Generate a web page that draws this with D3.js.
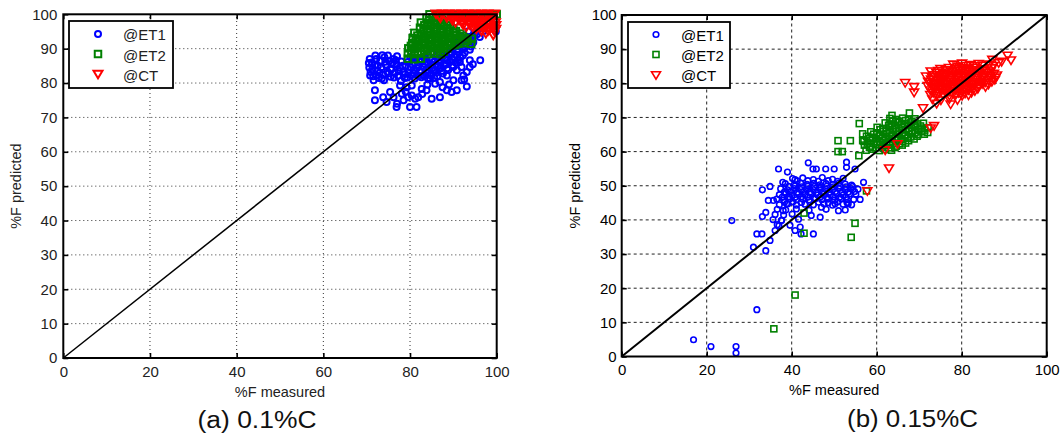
<!DOCTYPE html>
<html><head><meta charset="utf-8">
<script src="https://cdn.jsdelivr.net/npm/d3@7"></script>
<style>body{margin:0;background:#fff}svg{display:block}</style>
</head><body><svg id="c" width="1062" height="436"></svg>
<script>
const xTicks = [0,20,40,60,80,100];
const yTicks = [0,10,20,30,40,50,60,70,80,90,100];
const legendLabels = ["@ET1","@ET2","@CT"];
const seriesColors = ["#0000ff","#008000","#ff0000"];
const panelTitles = ["(a) 0.1%C","(b) 0.15%C"];
const xLabel = "%F measured";
const yLabel = "%F predicted";
const diagX = [0,100];
const diagY = [0,100];

// ---- Panel (a) 0.1%C ----
const et1A = [
[70.6,84.5],[70.9,83.2],[71.2,86.0],[71.5,82.0],[71.9,85.2],[72.2,87.0],[72.5,83.6],[72.8,81.5],[73.1,86.4],[73.4,84.6],
[73.8,82.4],[74.1,87.5],[74.4,85.3],[74.8,83.3],[75.2,86.4],[75.5,81.8],[75.8,84.2],[76.2,87.0],[76.5,83.0],[76.9,85.5],
[77.2,82.1],[77.6,84.5],[78.0,86.3],[78.4,83.2],[78.8,81.5],[79.0,85.0],[70.8,82.2],[72.0,88.0],[73.6,88.1],[75.0,82.8],
[76.0,85.9],[77.9,80.6],[74.0,80.8],[71.6,80.8],
[70.5,85.8],[71.3,84.0],[72.6,85.0],[73.0,83.0],[74.3,86.2],[75.6,83.9],[76.7,86.6],[77.4,83.4],[78.3,85.0],[78.9,82.6],
[72.3,82.3],[76.3,81.6],[74.9,88.0],[77.0,87.8],[70.7,87.0],[73.5,81.3],
[71.9,77.9],[71.9,75.0],[73.8,75.9],[75.4,77.4],[76.2,75.9],[76.9,73.0],[78.1,76.9],[78.5,75.0],[79.6,75.9],[80.4,76.4],
[81.2,75.4],[80.0,73.0],[81.5,73.0],[81.9,75.9],[77.7,79.3],[79.2,78.8],[80.4,79.3],[82.7,78.3],[83.8,77.9],[85.0,75.4],
[86.9,75.9],[88.5,77.9],[89.6,77.4],[90.8,77.9],[93.1,79.0],[91.9,80.8],[90.0,80.8],[86.9,80.3],[85.8,79.8],[84.6,81.3],
[83.1,82.2],[88.5,82.2],[90.8,83.7],[91.9,84.7],[93.8,86.6],[93.8,84.7],[96.2,86.6],[92.3,82.2],[93.1,83.2],[91.5,86.1],
[90.0,84.7],[88.5,86.6],[87.7,88.1],[86.9,84.2],[85.4,83.7],[84.2,84.7],[74.6,74.5],[77.0,74.0],[79.0,77.5],[82.8,76.8],
[84.0,79.5],[87.5,78.8],[89.0,79.6],[92.5,81.0],[94.5,85.5],
[79.4,81.6],[81.1,81.3],[82.6,81.7],[84.1,81.4],[85.6,81.6],
[79.6,83.1],[81.0,82.8],[82.4,83.2],[84.1,82.9],[86.1,83.1],[87.6,82.8],
[80.1,84.6],[81.6,84.3],[83.1,84.7],[85.1,84.4],[87.1,84.6],[88.6,84.3],
[79.5,86.1],[81.1,85.8],[82.6,86.2],[84.1,85.9],[85.6,86.1],[87.1,85.8],[89.1,86.2],[90.6,85.9],
[80.1,87.6],[81.6,87.3],[83.1,87.7],[84.6,87.4],[86.1,87.6],[88.6,87.3],[90.1,87.7],[91.6,87.4],
[85.1,89.1],[86.6,88.8],[88.1,89.2],[89.6,88.9],[91.1,89.1],[92.6,88.8],
[88.1,90.6],[89.6,90.3],[91.1,90.7],[92.6,90.4],[94.1,90.6],
[90.1,92.1],[91.6,91.8],[93.1,92.2],[94.6,91.9],
[91.6,93.6],[93.1,93.3],[94.6,93.7],[96.1,93.4],
[93.5,95.1],[95.1,94.8],[96.8,95.0],[99.8,95.0],
[80.3,82.3],[81.8,82.1],[83.3,82.4],[84.8,82.2],[86.3,82.0],
[80.8,83.8],[82.3,83.6],[83.8,83.9],[85.8,83.7],[87.3,83.5],[88.8,83.8],
[80.5,85.4],[82.0,85.2],[83.5,85.5],[85.0,85.3],[86.5,85.1],[88.0,85.4],[89.8,85.2],
[80.6,86.9],[82.1,86.7],[83.6,87.0],[85.1,86.8],[86.6,86.6],[88.1,86.9],[89.8,86.8],[91.2,86.7],
[86.3,88.3],[87.8,88.1],[89.3,88.4],[90.8,88.2],[92.2,88.0],
[89.3,89.8],[90.8,89.6],[92.3,89.9],[93.8,89.7],
[91.3,91.3],[92.8,91.1],[94.3,91.4],
[92.8,92.8],[94.2,92.6],[95.5,94.2]
];
const et2A = [
[79.5,87.1],[81.0,86.9],[82.5,87.1],
[79.5,88.6],[81.1,88.4],[82.5,88.6],[84.1,88.4],[85.5,88.6],[87.1,88.4],
[79.6,90.1],[81.0,89.9],[82.6,90.1],[84.0,89.9],[85.6,90.1],[87.0,89.9],[88.6,90.1],
[80.5,91.6],[82.1,91.4],[83.5,91.6],[85.1,91.4],[86.5,91.6],[88.1,91.4],[89.5,91.6],[91.1,91.4],[92.5,91.6],[94.1,91.4],
[80.6,93.1],[82.0,92.9],[83.6,93.1],[85.0,92.9],[86.6,93.1],[88.0,92.9],[89.6,93.1],[91.0,92.9],[92.6,93.1],[94.3,92.9],
[81.0,94.6],[82.6,94.4],[84.0,94.6],[85.6,94.4],[87.0,94.6],[88.6,94.4],[90.0,94.6],[91.6,94.4],
[82.3,96.1],[84.0,95.9],[85.6,96.1],[87.0,95.9],[88.6,96.1],[90.0,95.9],
[82.5,97.6],[84.1,97.4],[85.5,97.6],[87.1,97.4],[88.5,97.6],
[83.8,99.0],[85.2,99.1],[86.6,98.9],
[84.5,100],[86.0,100],[88.0,100],[90.0,100],[92.0,100],[94.0,100],[96.0,100],[98.0,100],[100,100],
[80.3,89.3],[81.8,89.2],[83.3,89.4],[84.8,89.2],[86.3,89.3],[87.8,89.1],
[80.2,90.8],[81.7,90.7],[83.2,90.9],[84.7,90.7],[86.2,90.8],[87.7,90.6],[89.2,90.9],[90.4,91.0],
[81.3,92.3],[82.8,92.2],[84.3,92.4],[85.8,92.2],[87.3,92.3],[88.8,92.1],[90.3,92.4],[91.8,92.2],[93.3,92.3],
[81.7,93.8],[83.2,93.7],[84.7,93.9],[86.2,93.7],[87.7,93.8],[89.2,93.6],[90.7,93.9],[92.2,93.7],
[83.1,95.3],[84.6,95.2],[86.1,95.4],[87.6,95.2],[89.1,95.3],[90.6,95.1],
[83.3,96.8],[84.8,96.7],[86.3,96.9],[87.8,96.7],[89.3,96.8],
[84.4,98.3],[85.9,98.2],[87.4,98.4]
];
const ctA = [
[86.0,100],[87.5,100],[89.0,100],[90.5,100],[92.0,100],[93.5,100],[95.0,100],[96.5,100],[98.0,100],[99.5,100],
[87.0,98.8],[88.5,98.9],[90.0,98.7],[91.5,98.8],[93.0,98.9],[94.5,98.7],[96.0,98.8],[97.5,98.9],[99.0,98.7],
[90.5,97.5],[92.0,97.4],[93.5,97.6],[95.0,97.5],[96.5,97.4],[98.0,97.6],[99.7,97.5],
[93.0,96.2],[94.5,96.1],[96.0,96.3],[97.5,96.2],[99.0,96.1],
[96.5,95.0],[98.0,95.1],[99.5,94.9],
[86.8,99.4],[88.3,99.5],[89.8,99.3],[91.3,99.4],[92.8,99.5],[94.3,99.3],[95.8,99.4],[97.3,99.5],[98.8,99.3],
[89.8,98.1],[91.3,98.2],[92.8,98.0],[94.3,98.1],[95.8,98.2],[97.3,98.0],[98.8,98.1],
[92.3,96.8],[93.8,96.9],[95.3,96.7],[96.8,96.8],[98.3,96.9],[99.8,96.7],
[95.3,95.6],[96.8,95.7],[98.3,95.5],[99.8,95.6],[97.5,94.3],[99.2,93.8]
];

// ---- Panel (b) 0.15%C ----
const et1B = [
[16.9,4.9],[21.0,2.9],[26.9,2.9],[26.9,1.0],[31.8,13.7],[25.9,39.8],[31.0,32.0],[31.8,35.9],[33.0,35.9],[33.9,31.0],
[34.9,34.0],[33.1,48.8],[34.9,49.8],[36.9,54.9],[39.0,54.0],[33.1,41.0],[33.9,42.2],[34.5,45.7],[35.7,45.7],[36.1,36.9],
[37.0,38.3],[37.6,39.8],[38.0,42.7],[38.8,44.7],[37.9,51.0],[40.8,51.8],[40.8,36.9],[42.0,37.9],[42.2,35.9],[45.1,35.9],
[43.9,56.7],[45.0,54.9],[45.8,54.9],[46.7,40.8],[48.0,54.9],[50.0,54.9],[52.9,56.9],[52.9,55.4],[54.9,54.9],[56.9,51.0],
[56.1,46.0],[53.3,44.7],[51.0,42.7],[50.2,44.7],[47.0,43.7],
[40.2,52.1],[42.6,52.3],[45.1,51.8],[47.2,52.4],[49.6,51.9],[52.1,52.2],
[38.5,50.6],[40.6,50.3],[42.1,50.8],[43.6,50.4],[45.2,50.7],[46.6,50.3],[48.1,50.6],[49.7,50.4],[51.1,50.8],[52.6,50.5],[54.1,50.2],
[37.4,49.1],[39.0,48.8],[40.6,49.2],[42.1,48.9],[43.5,49.1],[45.1,48.8],[46.6,49.2],[48.0,49.0],[49.6,48.8],[51.1,49.2],[52.6,48.9],[54.0,49.1],[55.6,49.0],
[37.1,47.4],[38.6,47.7],[40.1,47.3],[41.6,47.6],[43.1,47.4],[44.6,47.7],[46.1,47.3],[47.6,47.6],[49.1,47.4],[50.6,47.7],[52.1,47.3],[53.6,47.6],[55.1,47.5],
[36.5,46.1],[38.1,45.8],[39.6,46.2],[41.1,45.9],[42.6,46.1],[44.1,45.8],[45.6,46.2],[47.1,45.9],[48.6,46.1],[50.1,45.8],[51.6,46.2],[53.1,45.9],[54.6,46.0],
[37.1,44.4],[39.1,44.7],[41.1,44.3],[43.1,44.6],[45.1,44.4],[47.6,44.7],[49.6,44.3],[52.1,44.6],[54.1,44.4],
[36.6,43.1],[38.6,42.9],[41.1,43.2],[44.1,42.8],[48.1,43.1],[52.6,42.9],
[36.1,41.6],[38.1,41.4],[40.1,41.7],[44.6,41.3],
[35.6,40.1],[37.6,39.9],[41.6,40.2],
[36.6,38.6],[39.6,38.4],
[39.3,49.8],[40.8,49.9],[42.3,49.7],[43.8,49.9],[45.3,49.8],[46.8,49.6],[48.3,49.9],[49.8,49.7],[51.3,49.9],[52.8,49.7],[54.3,49.8],
[38.3,48.2],[39.8,48.3],[41.3,48.1],[42.8,48.3],[44.3,48.2],[45.8,48.0],[47.3,48.3],[48.8,48.1],[50.3,48.3],[51.8,48.1],[53.3,48.2],[54.8,48.3],
[37.8,46.7],[39.3,46.8],[40.8,46.6],[42.3,46.8],[43.8,46.7],[45.3,46.5],[46.8,46.8],[48.3,46.6],[49.8,46.8],[51.3,46.6],[52.8,46.7],
[38.3,45.2],[40.3,45.3],[42.3,45.1],[44.3,45.3],[46.3,45.2],[48.6,45.0],[50.8,45.3],[53.0,45.1],
[41.3,51.4],[43.8,51.5],[46.3,51.3],[48.6,51.5],[50.8,51.3]
];
const et2B = [
[35.8,8.1],[40.8,18.0],[42.9,42.0],[42.9,36.1],[54.9,39.0],[54.0,34.9],[57.6,48.5],[50.9,63.2],[53.8,63.2],[50.9,60.0],
[51.9,60.0],[55.9,68.2],[55.8,58.8],[56.7,65.2],[56.7,63.2],
[57.5,60.4],[59.0,60.7],[60.6,60.3],[62.0,60.6],[63.5,60.4],
[57.1,61.9],[58.5,61.6],[60.1,62.0],[61.5,61.7],[63.0,61.9],[64.6,61.6],[66.0,61.9],
[57.0,63.0],[58.6,63.3],[60.0,63.0],[61.6,63.2],[63.0,62.9],[64.5,63.3],[66.1,63.0],[67.5,63.2],
[57.6,64.5],[59.0,64.2],[60.6,64.6],[62.0,64.3],[63.6,64.5],[65.0,64.2],[66.6,64.6],[68.0,64.3],[69.5,64.5],
[58.6,65.8],[60.0,65.5],[61.6,65.9],[63.0,65.6],[64.6,65.8],[66.0,65.5],[67.6,65.9],[69.0,65.6],[70.6,65.8],[72.0,65.6],
[60.1,67.1],[61.5,66.8],[63.1,67.2],[64.5,66.9],[66.1,67.1],[67.5,66.8],[69.1,67.2],[70.5,66.9],[72.1,67.0],
[62.0,68.4],[63.6,68.1],[65.0,68.5],[66.6,68.2],[68.0,68.4],[69.6,68.1],[71.0,68.3],
[63.1,69.7],[64.5,69.4],[66.1,69.8],[67.5,69.5],[69.0,69.6],
[63.6,70.6],[67.7,71.3],
[58.3,61.2],[59.8,61.1],[61.3,61.3],[62.8,61.1],[64.3,61.2],
[57.8,62.5],[59.3,62.4],[60.8,62.6],[62.3,62.4],[63.8,62.5],[65.3,62.3],[66.8,62.5],
[58.3,63.8],[59.8,63.7],[61.3,63.9],[62.8,63.7],[64.3,63.8],[65.8,63.6],[67.3,63.9],[68.8,63.7],
[59.3,65.1],[60.8,65.0],[62.3,65.2],[63.8,65.0],[65.3,65.1],[66.8,64.9],[68.3,65.2],[69.8,65.0],[71.2,65.1],
[60.8,66.4],[62.3,66.3],[63.8,66.5],[65.3,66.3],[66.8,66.4],[68.3,66.2],[69.8,66.5],[71.3,66.3],
[62.8,67.7],[64.3,67.6],[65.8,67.8],[67.3,67.6],[68.8,67.7],[70.3,67.5],
[63.8,69.0],[65.3,68.9],[66.8,69.1],[68.3,68.9]
];
const ctB = [
[57.8,48.3],[62.9,55.0],[62.0,60.3],[64.9,62.1],[72.7,66.7],[73.5,67.4],[66.7,80.0],[68.8,78.8],[68.8,77.2],[70.9,72.6],
[71.6,81.9],[72.7,83.4],[90.8,88.0],[91.6,86.6],[89.4,86.2],[87.2,86.8],
[78.0,85.4],[80.1,85.7],[82.0,85.3],[84.0,85.6],[86.4,85.4],[88.7,85.8],
[75.0,84.1],[77.0,84.4],[78.6,84.0],[80.0,84.3],[81.6,84.1],[83.0,84.4],[85.1,84.0],[87.0,84.3],
[74.0,83.0],[75.6,82.7],[77.0,83.1],[78.6,82.8],[80.0,83.0],[81.6,82.7],[83.0,83.1],[84.6,82.8],[86.0,83.0],[87.6,82.7],
[73.0,81.7],[74.6,81.4],[76.0,81.8],[77.6,81.5],[79.0,81.7],[80.6,81.4],[82.0,81.8],[83.6,81.5],[85.0,81.7],[86.6,81.4],[88.0,81.6],
[72.1,80.4],[73.5,80.1],[75.1,80.5],[76.5,80.2],[78.1,80.4],[79.5,80.1],[81.1,80.5],[82.5,80.2],[84.1,80.4],[85.5,80.1],[87.1,80.3],
[72.0,79.1],[73.6,78.8],[75.0,79.2],[76.6,78.9],[78.0,79.1],[79.6,78.8],[81.0,79.2],[82.6,78.9],[84.0,79.1],[85.6,78.8],
[72.6,77.8],[74.1,77.5],[75.6,77.9],[77.1,77.6],[78.6,77.8],[80.1,77.5],[81.6,77.9],[83.1,77.6],
[72.6,76.5],[74.1,76.2],[75.6,76.6],[77.1,76.3],[78.6,76.5],[80.1,76.2],[81.6,76.4],
[73.1,75.2],[75.1,74.9],[77.1,75.3],[79.0,75.0],
[74.1,73.9],[77.4,73.7],
[79.0,84.8],[81.0,85.0],[83.0,84.9],[85.0,85.1],[87.5,85.0],
[74.5,83.5],[76.3,83.7],[77.8,83.4],[79.3,83.6],[80.8,83.5],[82.3,83.7],[83.8,83.4],[85.5,83.6],[86.8,83.4],
[73.5,82.3],[74.8,82.2],[76.3,82.4],[77.8,82.2],[79.3,82.3],[80.8,82.1],[82.3,82.4],[83.8,82.2],[85.3,82.3],[86.8,82.1],[88.3,82.2],
[72.8,81.0],[74.3,80.9],[75.8,81.1],[77.3,80.9],[78.8,81.0],[80.3,80.8],[81.8,81.1],[83.3,80.9],[84.8,81.0],[86.3,80.8],[87.8,80.9],
[72.8,79.7],[74.3,79.6],[75.8,79.8],[77.3,79.6],[78.8,79.7],[80.3,79.5],[81.8,79.8],[83.3,79.6],[84.8,79.7],[86.3,79.5],
[73.3,78.4],[74.8,78.3],[76.3,78.5],[77.8,78.3],[79.3,78.4],[80.8,78.2],[82.3,78.5],[83.8,78.3],
[73.3,77.1],[74.8,77.0],[76.3,77.2],[77.8,77.0],[79.3,77.1],[80.8,76.9],[82.3,77.1]
];

const FONT = "'Liberation Sans', Arial, Helvetica, sans-serif";
const svg = d3.select("#c");

function marker(sel, color, sz) {
  sel.attr("fill", "none").attr("stroke", color).attr("stroke-width", sz.sw);
}

function drawPanel(cfg) {
  const x = d3.scaleLinear().domain([0,100]).range([cfg.x0, cfg.x1]);
  const y = d3.scaleLinear().domain([0,100]).range([cfg.y0, cfg.y1]);
  const g = svg.append("g");
  const gridX = xTicks.filter(t => t > 0 && t < 100);
  const gridY = yTicks.filter(t => t > 0 && t < 100);
  const grid = g.append("g").attr("stroke", cfg.gridColor).attr("stroke-width", 1)
    .attr("stroke-dasharray", cfg.dash);
  grid.selectAll("line.gx").data(gridX).join("line").attr("class","gx")
    .attr("x1", d => x(d)).attr("x2", d => x(d)).attr("y1", cfg.y0).attr("y2", cfg.y1);
  grid.selectAll("line.gy").data(gridY).join("line").attr("class","gy")
    .attr("y1", d => y(d)).attr("y2", d => y(d)).attr("x1", cfg.x0).attr("x2", cfg.x1);

  const styleAxis = (a, labels) => {
    a.select(".domain").remove();
    a.selectAll(".tick line").attr("stroke", "#000").attr("stroke-width", 1.6);
    a.selectAll(".tick text").attr("font-family", FONT).attr("font-size", cfg.tickFont)
      .attr("fill", cfg.textColor);
    if (!labels) a.selectAll(".tick text").remove();
  };
  g.append("g").attr("transform", `translate(0,${cfg.y0})`)
    .call(d3.axisBottom(x).tickValues(xTicks).tickSizeInner(-5).tickSizeOuter(0).tickPadding(8))
    .call(a => styleAxis(a, true));
  g.append("g").attr("transform", `translate(0,${cfg.y1})`)
    .call(d3.axisTop(x).tickValues(xTicks).tickSizeInner(-5).tickSizeOuter(0))
    .call(a => styleAxis(a, false));
  g.append("g").attr("transform", `translate(${cfg.x0},0)`)
    .call(d3.axisLeft(y).tickValues(yTicks).tickSizeInner(-5).tickSizeOuter(0).tickPadding(cfg.yPad))
    .call(a => styleAxis(a, true));
  g.append("g").attr("transform", `translate(${cfg.x1},0)`)
    .call(d3.axisRight(y).tickValues(yTicks).tickSizeInner(-5).tickSizeOuter(0))
    .call(a => styleAxis(a, false));

  const sz = cfg.sz;
  const series = cfg.data;
  g.append("g").selectAll("circle").data(series[0]).join("circle")
    .attr("cx", d => x(d[0])).attr("cy", d => y(d[1])).attr("r", sz.r)
    .call(s => marker(s, seriesColors[0], sz));
  g.append("g").selectAll("rect").data(series[1]).join("rect")
    .attr("x", d => x(d[0]) - sz.sq/2).attr("y", d => y(d[1]) - sz.sq/2)
    .attr("width", sz.sq).attr("height", sz.sq)
    .call(s => marker(s, seriesColors[1], sz));
  const tri = (cx, cy) => `M${cx - sz.tw/2},${cy - sz.th/2}L${cx + sz.tw/2},${cy - sz.th/2}L${cx},${cy + sz.th/2}Z`;
  g.append("g").selectAll("path").data(series[2]).join("path")
    .attr("d", d => tri(x(d[0]), y(d[1])))
    .call(s => marker(s, seriesColors[2], sz));

  g.append("path").datum(diagX.map((v, i) => [v, diagY[i]]))
    .attr("d", d3.line().x(d => x(d[0])).y(d => y(d[1])))
    .attr("stroke", "#000").attr("stroke-width", cfg.diagW).attr("fill", "none");

  g.append("rect").attr("x", cfg.x0).attr("y", cfg.y1)
    .attr("width", cfg.x1 - cfg.x0).attr("height", cfg.y0 - cfg.y1)
    .attr("fill", "none").attr("stroke", "#000").attr("stroke-width", 2);

  const L = cfg.legend;
  g.append("rect").attr("x", L.x).attr("y", L.y).attr("width", L.w).attr("height", L.h)
    .attr("fill", "#fff").attr("stroke", "#000").attr("stroke-width", 1.8);
  legendLabels.forEach((lab, i) => {
    const cy = L.my[i];
    if (i === 0) g.append("circle").attr("cx", L.mx).attr("cy", cy).attr("r", sz.r)
      .call(s => marker(s, seriesColors[0], sz));
    if (i === 1) g.append("rect").attr("x", L.mx - sz.sq/2).attr("y", cy - sz.sq/2)
      .attr("width", sz.sq).attr("height", sz.sq).call(s => marker(s, seriesColors[1], sz));
    if (i === 2) g.append("path").attr("d", tri(L.mx, cy)).call(s => marker(s, seriesColors[2], sz));
    g.append("text").attr("x", L.tx).attr("y", L.ty[i]).text(lab)
      .attr("font-family", FONT).attr("font-size", 15).attr("fill", cfg.textColor);
  });

  g.append("text").attr("x", (cfg.x0 + cfg.x1) / 2).attr("y", cfg.xlabY).attr("text-anchor", "middle")
    .attr("font-family", FONT).attr("font-size", 14.5).attr("fill", cfg.textColor).text(xLabel);
  g.append("text").attr("transform", `translate(${cfg.ylabX},${(cfg.y0 + cfg.y1) / 2}) rotate(-90)`)
    .attr("text-anchor", "middle").attr("font-family", FONT).attr("font-size", 14.5)
    .attr("fill", cfg.textColor).text(yLabel);
  g.append("text").attr("x", cfg.titleX).attr("y", cfg.titleY).attr("text-anchor", "middle")
    .attr("font-family", FONT).attr("font-size", 23).attr("fill", "#111")
    .attr("textLength", cfg.titleW).attr("lengthAdjust", "spacingAndGlyphs").text(cfg.title);
}

drawPanel({
  x0: 63.3, x1: 496.7, y0: 358, y1: 14.3,
  gridColor: "#333", dash: "1,3", tickFont: 15, yPad: 6, textColor: "#222",
  sz: { r: 3, sq: 6.5, tw: 9, th: 7.5, sw: 2 }, diagW: 1.5,
  data: [et1A, et2A, ctA],
  legend: { x: 69, y: 21, w: 104, h: 67, mx: 98, my: [34, 54, 74.5], tx: 123, ty: [40, 61, 81] },
  xlabY: 397, ylabX: 21, title: panelTitles[0], titleX: 257, titleY: 428, titleW: 119
});
drawPanel({
  x0: 621.7, x1: 1046.7, y0: 356.5, y1: 15,
  gridColor: "#222", dash: "3,3", tickFont: 15, yPad: 5, textColor: "#000",
  sz: { r: 2.8, sq: 6, tw: 9, th: 7.5, sw: 1.6 }, diagW: 2,
  data: [et1B, et2B, ctB],
  legend: { x: 628, y: 22, w: 102, h: 66, mx: 656, my: [34.5, 54.5, 75.5], tx: 681, ty: [41, 61, 81] },
  xlabY: 395, ylabX: 580, title: panelTitles[1], titleX: 912.5, titleY: 427, titleW: 131
});
</script>
</body></html>
